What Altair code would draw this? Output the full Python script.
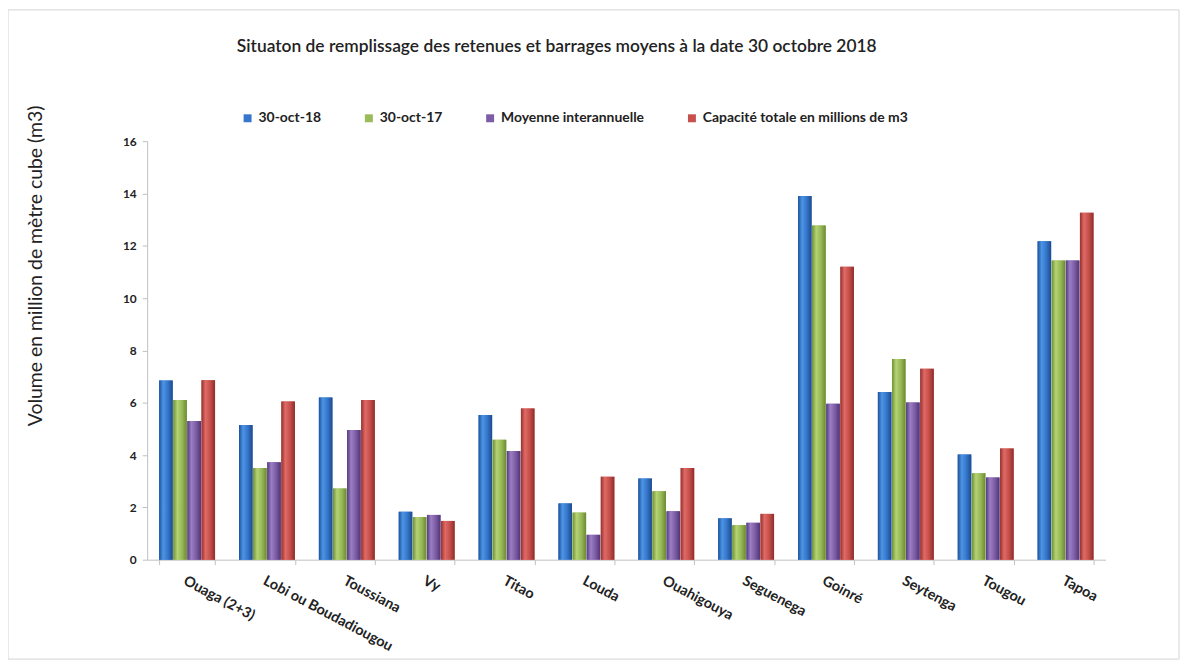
import altair as alt
import pandas as pd

sites = ["Ouaga (2+3)", "Lobi ou Boudadiougou", "Toussiana", "Vy", "Titao", "Louda",
         "Ouahigouya", "Seguenega", "Goinré", "Seytenga", "Tougou", "Tapoa"]
series = ["30-oct-18", "30-oct-17", "Moyenne interannuelle", "Capacité totale en millions de m3"]

v_2018 = [6.85, 5.15, 6.2, 1.83, 5.53, 2.15, 3.1, 1.58, 13.9, 6.41, 4.02, 12.17]
v_2017 = [6.1, 3.5, 2.72, 1.63, 4.58, 1.8, 2.62, 1.32, 12.78, 7.67, 3.3, 11.44]
v_moy = [5.3, 3.72, 4.96, 1.71, 4.15, 0.95, 1.85, 1.41, 5.96, 6.01, 3.14, 11.44]
v_cap = [6.86, 6.05, 6.1, 1.48, 5.78, 3.17, 3.5, 1.75, 11.2, 7.3, 4.25, 13.26]

colors = ["#3676cc", "#9bbb59", "#7d5ea6", "#c8504c"]
# gradient stops (dark edge, highlight, body, dark edge) per series
shades = [
    ["#1d5199", "#4c95e6", "#3575c9", "#1c4a8c"],
    ["#6f8f35", "#b3d374", "#98b857", "#6a8a32"],
    ["#553a7e", "#9b7ec4", "#7c5ca4", "#4f3575"],
    ["#95302d", "#e06a66", "#c54e4a", "#8e2d2a"],
]

rows = []
for s, vals in zip(series, [v_2018, v_2017, v_moy, v_cap]):
    for site, v in zip(sites, vals):
        rows.append({"site": site, "serie": s, "volume": v})
df = pd.DataFrame(rows)

W, H = 964, 421
FONT = "Lato"

x_enc = alt.X("site:N", sort=sites,
              scale=alt.Scale(domain=sites, paddingInner=0.3, paddingOuter=0.15),
              axis=alt.Axis(title=None, labelAngle=28, labelAlign="left", labelBaseline="top",
                            labelPadding=9, labelFont=FONT, labelFontWeight="bold",
                            labelFontSize=14.5, labelColor="#222222", tickBand="extent",
                            tickColor="#bfbfbf", domainColor="#bfbfbf", tickSize=5, grid=False,
                            labelOverlap=False, labelLimit=400))
xo_enc = alt.XOffset("serie:N", scale=alt.Scale(domain=series, paddingInner=0.04))
y_enc = alt.Y("volume:Q", scale=alt.Scale(domain=[0, 16], nice=False),
              axis=alt.Axis(title="Volume en million de mètre cube (m3)", values=list(range(0, 17, 2)),
                            grid=False, labelFont=FONT, labelFontWeight="bold", labelFontSize=12,
                            labelColor="#222222", tickColor="#bfbfbf", domainColor="#bfbfbf",
                            tickSize=5, labelPadding=6,
                            titleFont=FONT, titleFontSize=19.5, titleFontWeight="normal",
                            titleColor="#222222", titleAngle=-90, titleX=-112, titleY=125,
                            titleAlign="center", titleBaseline="middle"))

bars = alt.Chart(df).mark_bar().encode(
    x=x_enc, xOffset=xo_enc, y=y_enc,
    color=alt.Color("serie:N", sort=series,
                    scale=alt.Scale(domain=series, range=colors),
                    legend=alt.Legend(title=None, orient="none", legendX=94, legendY=-30,
                                      direction="horizontal", columns=4, columnPadding=41,
                                      symbolType="square", symbolSize=64, symbolStrokeWidth=0,
                                      labelFont=FONT, labelFontWeight="bold", labelFontSize=14,
                                      labelColor="#222222", labelLimit=400)),
)

overlays = []
for s, st in zip(series, shades):
    grad = alt.LinearGradient(
        gradient="linear", x1=0, x2=1, y1=0, y2=0,
        stops=[alt.GradientStop(offset=0, color=st[0]),
               alt.GradientStop(offset=0.3, color=st[1]),
               alt.GradientStop(offset=0.65, color=st[2]),
               alt.GradientStop(offset=1, color=st[3])])
    overlays.append(
        alt.Chart(df).transform_filter(alt.datum.serie == s).mark_bar(color=grad).encode(
            x=x_enc, xOffset=xo_enc, y=y_enc,
        )
    )

frame_df = pd.DataFrame({"k": [0]})
frame = alt.Chart(frame_df).mark_rect(fill="transparent", stroke="#d4d4d4", strokeWidth=1).encode(
    x=alt.value(-140), x2=alt.value(1038), y=alt.value(-132), y2=alt.value(521)
)

chart = alt.layer(frame, bars, *overlays).properties(
    width=W, height=H,
    view=alt.ViewBackground(stroke="transparent", strokeWidth=0),
    title=alt.TitleParams("Situaton de remplissage des retenues et barrages moyens à la date 30 octobre 2018",
                          font=FONT, fontSize=17.5, fontWeight=600, color="#222222",
                          anchor="middle", dx=-70, offset=-46),
    autosize=alt.AutoSizeParams(type="none"),
    padding={"left": 140, "top": 132, "right": 80, "bottom": 100},
).configure(background="white").configure_view(stroke="transparent", strokeWidth=0)

chart.save("out.html", embed_options={"renderer": "svg", "actions": False})
